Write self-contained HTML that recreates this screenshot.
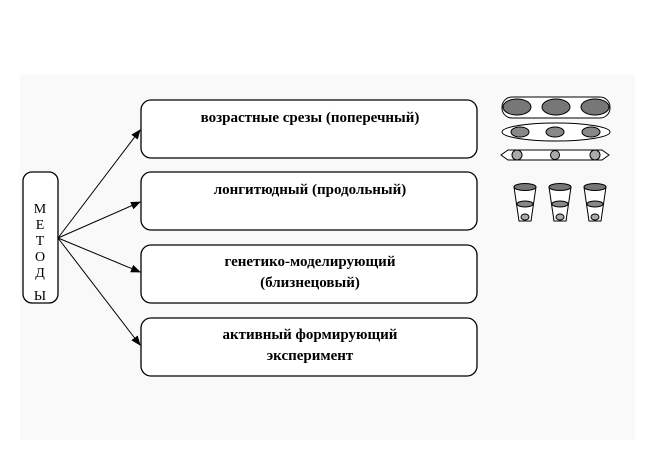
<!DOCTYPE html><html><head><style>body{margin:0;background:#fff}</style></head><body>
<svg width="656" height="466" xmlns="http://www.w3.org/2000/svg" style="display:block">
<rect x="20" y="75" width="615" height="365" fill="#f9f9f9"/>
<defs><marker id="a" markerWidth="10" markerHeight="8" refX="9" refY="4" orient="auto" markerUnits="userSpaceOnUse"><path d="M0,0L10,4L0,8z" fill="#000"/></marker></defs>
<g fill="#fff" stroke="#000" stroke-width="1.3">
<rect x="141" y="100" width="336" height="58" rx="10"/>
<rect x="141" y="172" width="336" height="58" rx="10"/>
<rect x="141" y="245" width="336" height="58" rx="10"/>
<rect x="141" y="318" width="336" height="58" rx="10"/>
<rect x="23" y="172" width="35" height="131" rx="9"/>
</g>
<g stroke="#000" stroke-width="1" marker-end="url(#a)">
<line x1="58" y1="238" x2="140" y2="130"/>
<line x1="58" y1="238" x2="140" y2="202"/>
<line x1="58" y1="238" x2="140" y2="272"/>
<line x1="58" y1="238" x2="140" y2="345"/>
</g>
<g font-family="Liberation Serif,serif" font-size="15" text-anchor="middle" fill="#000">
<text x="310" y="122" font-weight="bold">возрастные срезы (поперечный)</text>
<text x="310" y="194" font-weight="bold">лонгитюдный (продольный)</text>
<text x="310" y="266" font-weight="bold">генетико-моделирующий</text>
<text x="310" y="287" font-weight="bold">(близнецовый)</text>
<text x="310" y="339" font-weight="bold">активный формирующий</text>
<text x="310" y="360" font-weight="bold">эксперимент</text>
<g font-size="14"><text x="40" y="213">М</text><text x="40" y="229">Е</text><text x="40" y="245">Т</text><text x="40" y="261">О</text><text x="40" y="277">Д</text><text x="40" y="300">Ы</text></g>
</g>
<g stroke="#000" stroke-width="1">
<rect x="502" y="97" width="108" height="21" rx="10" fill="#fff"/>
<ellipse cx="517" cy="107" rx="14" ry="8" fill="#777"/><ellipse cx="556" cy="107" rx="14" ry="8" fill="#777"/><ellipse cx="595" cy="107" rx="14" ry="8" fill="#777"/>
<ellipse cx="556" cy="132" rx="54" ry="9" fill="#fff"/>
<ellipse cx="520" cy="132" rx="9" ry="5" fill="#888"/><ellipse cx="555" cy="132" rx="9" ry="5" fill="#888"/><ellipse cx="591" cy="132" rx="9" ry="5" fill="#888"/>
<path d="M508,150H602L609,155L602,160H508L501,155Z" fill="#fff"/>
<circle cx="517" cy="155" r="5" fill="#aaa"/><circle cx="555" cy="155" r="4.5" fill="#aaa"/><circle cx="595" cy="155" r="5" fill="#aaa"/>
<g fill="#fff">
<path d="M514,187L519,221H531L536,187Z"/><path d="M549,187L554,221H566L571,187Z"/><path d="M584,187L589,221H601L606,187Z"/>
</g>
<g fill="#777"><ellipse cx="525" cy="187" rx="11" ry="3.5"/><ellipse cx="560" cy="187" rx="11" ry="3.5"/><ellipse cx="595" cy="187" rx="11" ry="3.5"/></g>
<g fill="#888"><ellipse cx="525" cy="204" rx="8" ry="3"/><ellipse cx="560" cy="204" rx="8" ry="3"/><ellipse cx="595" cy="204" rx="8" ry="3"/></g>
<g fill="#aaa"><ellipse cx="525" cy="217" rx="4" ry="3"/><ellipse cx="560" cy="217" rx="4" ry="3"/><ellipse cx="595" cy="217" rx="4" ry="3"/></g>
</g>
</svg>
</body></html>
